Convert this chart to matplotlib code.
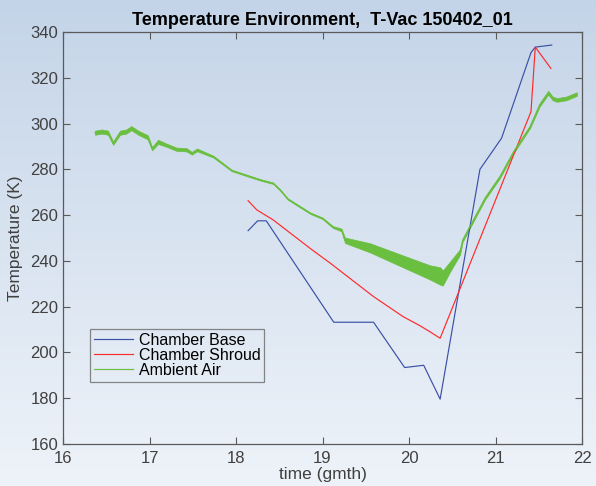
import numpy as np
import matplotlib
matplotlib.use("Agg")
import matplotlib.pyplot as plt
from matplotlib.colors import LinearSegmentedColormap

plt.rcParams['font.family'] = ['Liberation Sans', 'DejaVu Sans']

# Chamber base thermocouple (time in gmt hours, temperature in K)
base_t = [18.14, 18.25, 18.35, 19.13, 19.59, 19.95, 20.17, 20.36, 20.82, 21.07, 21.41, 21.46, 21.65]
base_k = [253.2, 257.5, 257.5, 213.2, 213.2, 193.4, 194.4, 179.6, 280.0, 293.6, 331.0, 333.4, 334.3]

# Chamber shroud
shroud_t = [18.14, 18.24, 18.43, 18.87, 19.09, 19.59, 19.93, 20.13, 20.24, 20.36, 21.41, 21.46, 21.64]
shroud_k = [266.3, 262.3, 257.9, 245.1, 239.0, 224.4, 215.7, 211.6, 209.1, 206.2, 305.2, 333.4, 324.1]

# Ambient air: centre of the trace and half width of the noise band
air_t = [16.37, 16.45, 16.52, 16.58, 16.66, 16.73, 16.79, 16.87, 16.98, 17.03,
         17.10, 17.20, 17.31, 17.43, 17.49, 17.55, 17.74, 17.95, 18.28, 18.43,
         18.51, 18.60, 18.86, 19.00, 19.12, 19.22, 19.26, 19.55, 19.93, 20.24,
         20.36, 20.39, 20.47, 20.59, 20.62, 20.88, 21.05, 21.21, 21.40, 21.51,
         21.61, 21.66, 21.71, 21.82, 21.94]
air_k = [296.0, 296.5, 296.0, 291.4, 296.0, 296.5, 298.0, 296.0, 294.0, 289.0,
         292.0, 290.5, 288.8, 288.5, 287.0, 288.5, 285.5, 279.5, 275.4, 273.9,
         271.0, 267.0, 260.8, 258.6, 254.8, 253.5, 249.0, 245.7, 239.8, 235.0,
         233.4, 232.5, 237.2, 243.9, 249.0, 267.4, 276.7, 287.7, 298.6, 308.1,
         313.5, 311.0, 310.3, 311.0, 312.9]
air_hw = [0.9, 0.9, 0.9, 0.7, 0.9, 0.9, 0.9, 0.9, 0.9, 0.7,
          0.9, 0.7, 0.7, 0.7, 0.6, 0.6, 0.4, 0.3, 0.3, 0.3,
          0.3, 0.3, 0.3, 0.3, 0.4, 0.6, 1.2, 2.0, 2.6, 3.1,
          3.8, 3.3, 2.3, 1.2, 0.7, 0.6, 0.6, 0.6, 0.6, 0.7,
          0.8, 0.8, 0.8, 0.8, 0.8]

fig = plt.figure(figsize=(5.96, 4.86), dpi=100)

# soft vertical gradient behind everything
bg = fig.add_axes([0, 0, 1, 1], zorder=-10)
grad = np.linspace(0, 1, 256).reshape(-1, 1)
cmap = LinearSegmentedColormap.from_list('bg', ['#c4d4e8', '#eef3f9'])
bg.imshow(grad, aspect='auto', cmap=cmap, extent=[0, 1, 0, 1])
bg.axis('off')

ax = fig.add_axes([63 / 596, 1 - 444 / 486, 519 / 596, 412 / 486])
ax.patch.set_alpha(0)

ax.plot(base_t, base_k, color='#3a50a8', lw=0.85, label='Chamber Base')
ax.plot(shroud_t, shroud_k, color='#ff2a2a', lw=0.85, label='Chamber Shroud')

lo = np.array(air_k) - np.array(air_hw)
hi = np.array(air_k) + np.array(air_hw)
ax.fill_between(air_t, lo, hi, color='#6abf40', lw=0.5, edgecolor='#6abf40')
ax.plot(air_t, air_k, color='#6abf40', lw=0.85, label='Ambient Air')

ax.set_xlim(16, 22)
ax.set_ylim(160, 340)
ax.set_xticks(range(16, 23))
ax.set_yticks(range(160, 341, 20))

for s in ax.spines.values():
    s.set_color('#5a5a5a')
    s.set_linewidth(0.9)
ax.tick_params(direction='in', length=5, width=0.8, colors='#5a5a5a',
               labelcolor='#404040', labelsize=12, top=True, right=True)
ax.tick_params(axis='x', pad=5)

ax.set_xlabel('time (gmth)', fontsize=12.5, color='#404040', labelpad=1)
ax.set_ylabel('Temperature (K)', fontsize=12.5, color='#404040', labelpad=5)
ax.set_title('Temperature Environment,  T-Vac 150402_01', fontsize=13,
             fontweight='bold', color='black', pad=5)

leg = ax.legend(loc='upper left', bbox_to_anchor=(0.052, 0.279), fontsize=11.5,
                frameon=True, fancybox=False, handlelength=2.45, handletextpad=0.35,
                labelspacing=0.0, borderpad=0.25, borderaxespad=0)
leg.get_frame().set_facecolor('none')
leg.get_frame().set_edgecolor('#6a6a6a')
leg.get_frame().set_linewidth(0.9)

fig.savefig('out.png', dpi=100)
